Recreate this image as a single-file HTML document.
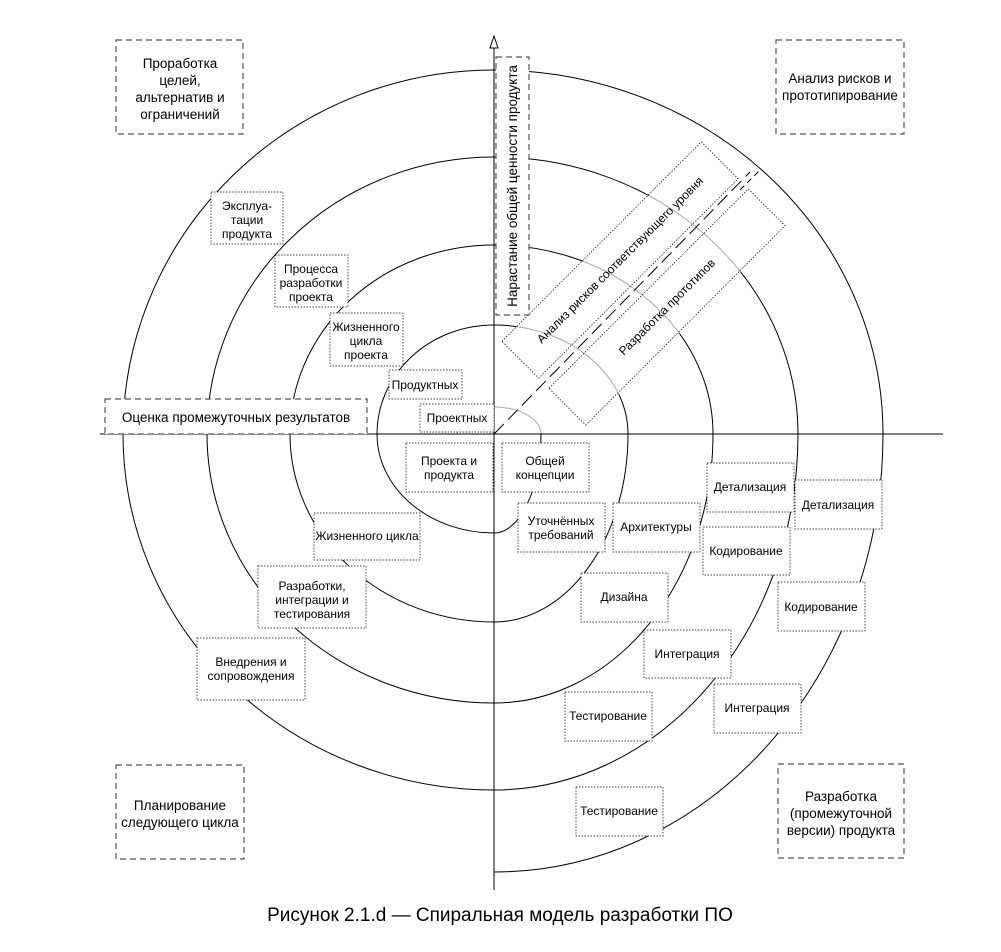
<!DOCTYPE html>
<html><head><meta charset="utf-8"><style>
html,body{margin:0;padding:0;background:#fff;}
svg{display:block;font-family:"Liberation Sans",sans-serif;}
</style></head><body>
<svg width="1001" height="952" viewBox="0 0 1001 952" xmlns="http://www.w3.org/2000/svg">
<defs>
<path id="sp" fill="none" d="M457,434 A37 27 0 0 1 494,407 A47 27 0 0 1 541,434 A47 99 0 0 1 494,533 A117 99 0 0 1 377,434 A117 109 0 0 1 494,325 A134 109 0 0 1 628,434 A134 188 0 0 1 494,622 A204 188 0 0 1 290,434 A204 189 0 0 1 494,245 A219 189 0 0 1 713,434 A219 269 0 0 1 494,703 A287 269 0 0 1 207,434 A287 277 0 0 1 494,157 A304 277 0 0 1 798,434 A304 356 0 0 1 494,790 A371 356 0 0 1 123,434 A371 364 0 0 1 494,70 A389 364 0 0 1 883,434 A389 438 0 0 1 494,872"/>
<clipPath id="band"><polygon points="494,434 494,350 502,341 703,142 786,226 587,426 560,434"/></clipPath>
<clipPath id="noband"><path clip-rule="evenodd" d="M0,0H1001V952H0Z M494,434 L494,350 L502,341 L703,142 L786,226 L587,426 L560,434Z"/></clipPath>
</defs>
<g clip-path="url(#noband)"><use href="#sp" stroke="#000" stroke-width="1"/></g>
<g clip-path="url(#band)"><use href="#sp" stroke="#aaa" stroke-width="1"/></g>
<path d="M457,434 A37 27 0 0 1 494,407" fill="none" stroke="#aaa"/>
<!-- axes -->
<line x1="100" y1="434" x2="943" y2="434" stroke="#000"/>
<line x1="494" y1="42" x2="494" y2="890" stroke="#000"/>
<polygon points="494,36 490,48 498,48" fill="#fff" stroke="#000"/>
<!-- diagonal dashed -->
<line x1="494" y1="434" x2="750" y2="172" stroke="#000" stroke-dasharray="14,6"/>
<line x1="740" y1="190" x2="760" y2="170" stroke="#000" stroke-dasharray="6,4"/>
<!-- rotated rects -->
<g transform="translate(620,260) rotate(-45)">
<rect x="-141" y="-26" width="282" height="52" fill="none" stroke="#000" stroke-width="0.7" stroke-dasharray="1.5,1.5"/>
<text x="0" y="4" font-size="12" text-anchor="middle">Анализ рисков соответствующего уровня</text>
</g>
<g transform="translate(667,307) rotate(-45)">
<rect x="-141" y="-26" width="282" height="52" fill="none" stroke="#000" stroke-width="0.7" stroke-dasharray="1.5,1.5"/>
<text x="0" y="4" font-size="12" text-anchor="middle">Разработка прототипов</text>
</g>
<!-- dashed boxes -->
<g fill="#fff" stroke="#555" stroke-width="1.2" stroke-dasharray="6,4">
<rect x="116" y="40" width="127" height="94"/>
<rect x="776" y="40" width="128" height="94"/>
<rect x="116" y="765" width="128" height="94"/>
<rect x="778" y="764" width="126" height="94"/>
<rect x="105" y="399" width="262" height="35"/>
<rect x="496" y="57" width="33" height="258"/>
</g>
<g font-size="13.5" text-anchor="middle" fill="#000">
<text x="180" y="68">Проработка</text><text x="180" y="85">целей,</text><text x="180" y="102">альтернатив и</text><text x="180" y="119">ограничений</text>
<text x="840" y="83">Анализ рисков и</text><text x="840" y="100">прототипирование</text>
<text x="180" y="810">Планирование</text><text x="180" y="827">следующего цикла</text>
<text x="841" y="801">Разработка</text><text x="841" y="818">(промежуточной</text><text x="841" y="835">версии) продукта</text>
<text x="236" y="422">Оценка промежуточных результатов</text>
<text transform="translate(517,186) rotate(-90)" x="0" y="0">Нарастание общей ценности продукта</text>
</g>
<!-- dotted boxes -->
<g fill="#fff" stroke="#000" stroke-width="0.7" stroke-dasharray="1.5,1.5">
<rect x="211" y="192" width="72" height="52"/>
<rect x="275" y="255" width="73" height="52"/>
<rect x="330" y="313" width="73" height="53"/>
<rect x="389" y="370" width="73" height="29"/>
<rect x="420" y="404" width="74" height="28"/>
<rect x="406" y="443" width="87" height="49"/>
<rect x="502" y="443" width="87" height="49"/>
<rect x="518" y="503" width="87" height="49"/>
<rect x="613" y="503" width="87" height="49"/>
<rect x="314" y="513" width="106" height="47"/>
<rect x="258" y="566" width="108" height="62"/>
<rect x="197" y="638" width="108" height="62"/>
<rect x="581" y="573" width="87" height="49"/>
<rect x="644" y="630" width="87" height="48"/>
<rect x="565" y="692" width="87" height="49"/>
<rect x="576" y="787" width="87" height="49"/>
<rect x="707" y="463" width="87" height="49"/>
<rect x="703" y="527" width="87" height="48"/>
<rect x="795" y="480" width="87" height="49"/>
<rect x="778" y="582" width="87" height="49"/>
<rect x="714" y="684" width="87" height="49"/>
</g>
<g font-size="12" text-anchor="middle" fill="#000">
<text x="247" y="210">Эксплуа-</text><text x="247" y="224">тации</text><text x="247" y="238">продукта</text>
<text x="311" y="273">Процесса</text><text x="311" y="287">разработки</text><text x="311" y="301">проекта</text>
<text x="366" y="331">Жизненного</text><text x="366" y="345">цикла</text><text x="366" y="359">проекта</text>
<text x="425" y="389">Продуктных</text>
<text x="457" y="422">Проектных</text>
<text x="449" y="465">Проекта и</text><text x="449" y="479">продукта</text>
<text x="545" y="465">Общей</text><text x="545" y="479">концепции</text>
<text x="561" y="525">Уточнённых</text><text x="561" y="539">требований</text>
<text x="656" y="531">Архитектуры</text>
<text x="367" y="540">Жизненного цикла</text>
<text x="312" y="590">Разработки,</text><text x="312" y="604">интеграции и</text><text x="312" y="618">тестирования</text>
<text x="251" y="666">Внедрения и</text><text x="251" y="680">сопровождения</text>
<text x="624" y="601">Дизайна</text>
<text x="687" y="658">Интеграция</text>
<text x="608" y="720">Тестирование</text>
<text x="619" y="815">Тестирование</text>
<text x="750" y="491">Детализация</text>
<text x="746" y="555">Кодирование</text>
<text x="838" y="509">Детализация</text>
<text x="821" y="611">Кодирование</text>
<text x="757" y="712">Интеграция</text>
</g>
<text x="500" y="921" font-size="19" text-anchor="middle">Рисунок 2.1.d — Спиральная модель разработки ПО</text>
</svg>
</body></html>
